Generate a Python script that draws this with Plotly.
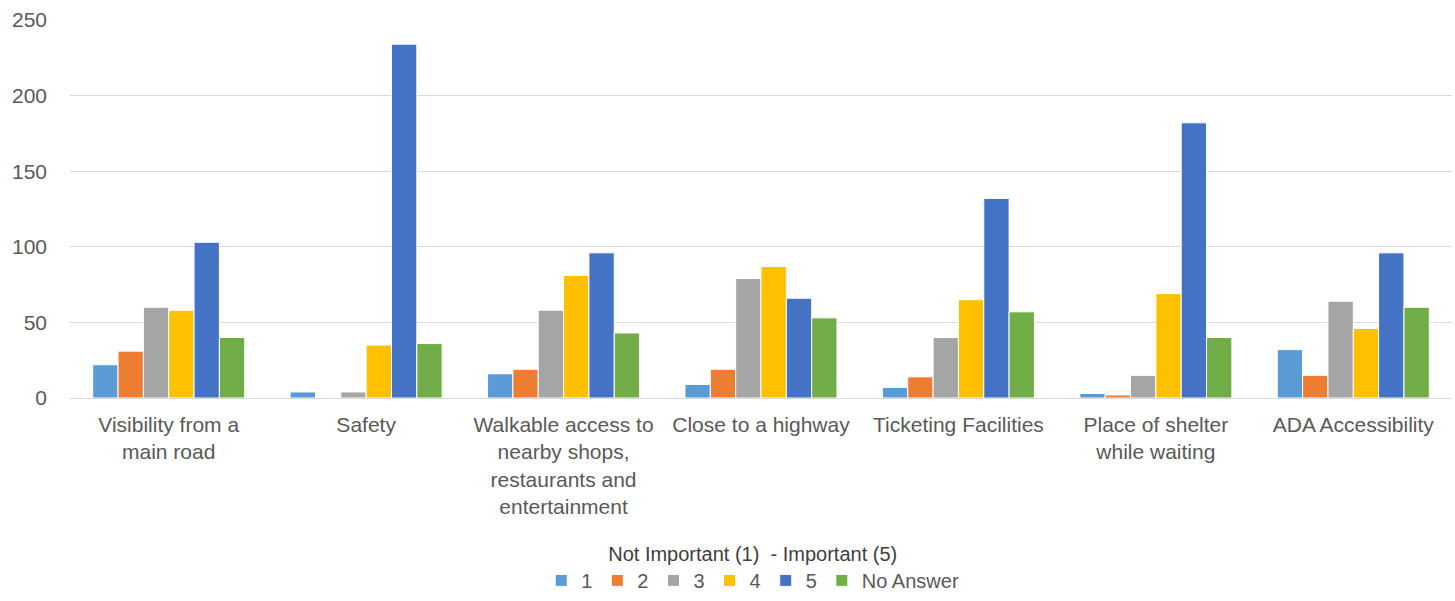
import plotly.graph_objects as go

categories = [
    "Visibility from a<br>main road",
    "Safety",
    "Walkable access to<br>nearby shops,<br>restaurants and<br>entertainment",
    "Close to a highway",
    "Ticketing Facilities",
    "Place of shelter<br>while waiting",
    "ADA Accessibility",
]
series_names = ["1", "2", "3", "4", "5", "No Answer"]
s1 = [22, 4, 16, 9, 7, 3, 32]
s2 = [31, 0, 19, 19, 14, 2, 15]
s3 = [60, 4, 58, 79, 40, 15, 64]
s4 = [58, 35, 81, 87, 65, 69, 46]
s5 = [103, 234, 96, 66, 132, 182, 96]
s_na = [40, 36, 43, 53, 57, 40, 60]
colors = ["#5B9BD5", "#ED7D31", "#A5A5A5", "#FFC000", "#4472C4", "#70AD47"]
y_ticks = [0, 50, 100, 150, 200, 250]

fig = go.Figure()
for name, vals, col in zip(series_names, [s1, s2, s3, s4, s5, s_na], colors):
    fig.add_trace(go.Bar(x=categories, y=vals, name=name,
                         marker=dict(color=col, line=dict(color="white", width=1))))

font_family = "Liberation Sans, Arial, sans-serif"
fig.update_layout(
    width=1455, height=601,
    margin=dict(l=70, r=3, t=20, b=203),
    paper_bgcolor="white", plot_bgcolor="white",
    barmode="group", bargap=0.23, bargroupgap=0,
    font=dict(family=font_family, color="#595959", size=21),
    xaxis=dict(showgrid=False, showline=False, ticks="", tickfont=dict(size=21, color="#595959"),
               tickangle=0, ticklabelstandoff=12),
    yaxis=dict(range=[0, 250], tickvals=y_ticks, showgrid=True, gridcolor="#d9d9d9", gridwidth=1,
               zeroline=True, zerolinecolor="#d9d9d9", zerolinewidth=1,
               tickfont=dict(size=21, color="#595959"), ticklabelstandoff=22, showline=False),
    legend=dict(orientation="h", xref="paper", x=0.494, xanchor="center",
                yref="container", y=0.11, yanchor="top",
                title=dict(text="Not Important (1)  - Important (5)", side="top center",
                           font=dict(size=20, color="#404040")),
                font=dict(size=20, color="#595959"), itemwidth=30, tracegroupgap=0),
)
fig.write_html("out.html")
